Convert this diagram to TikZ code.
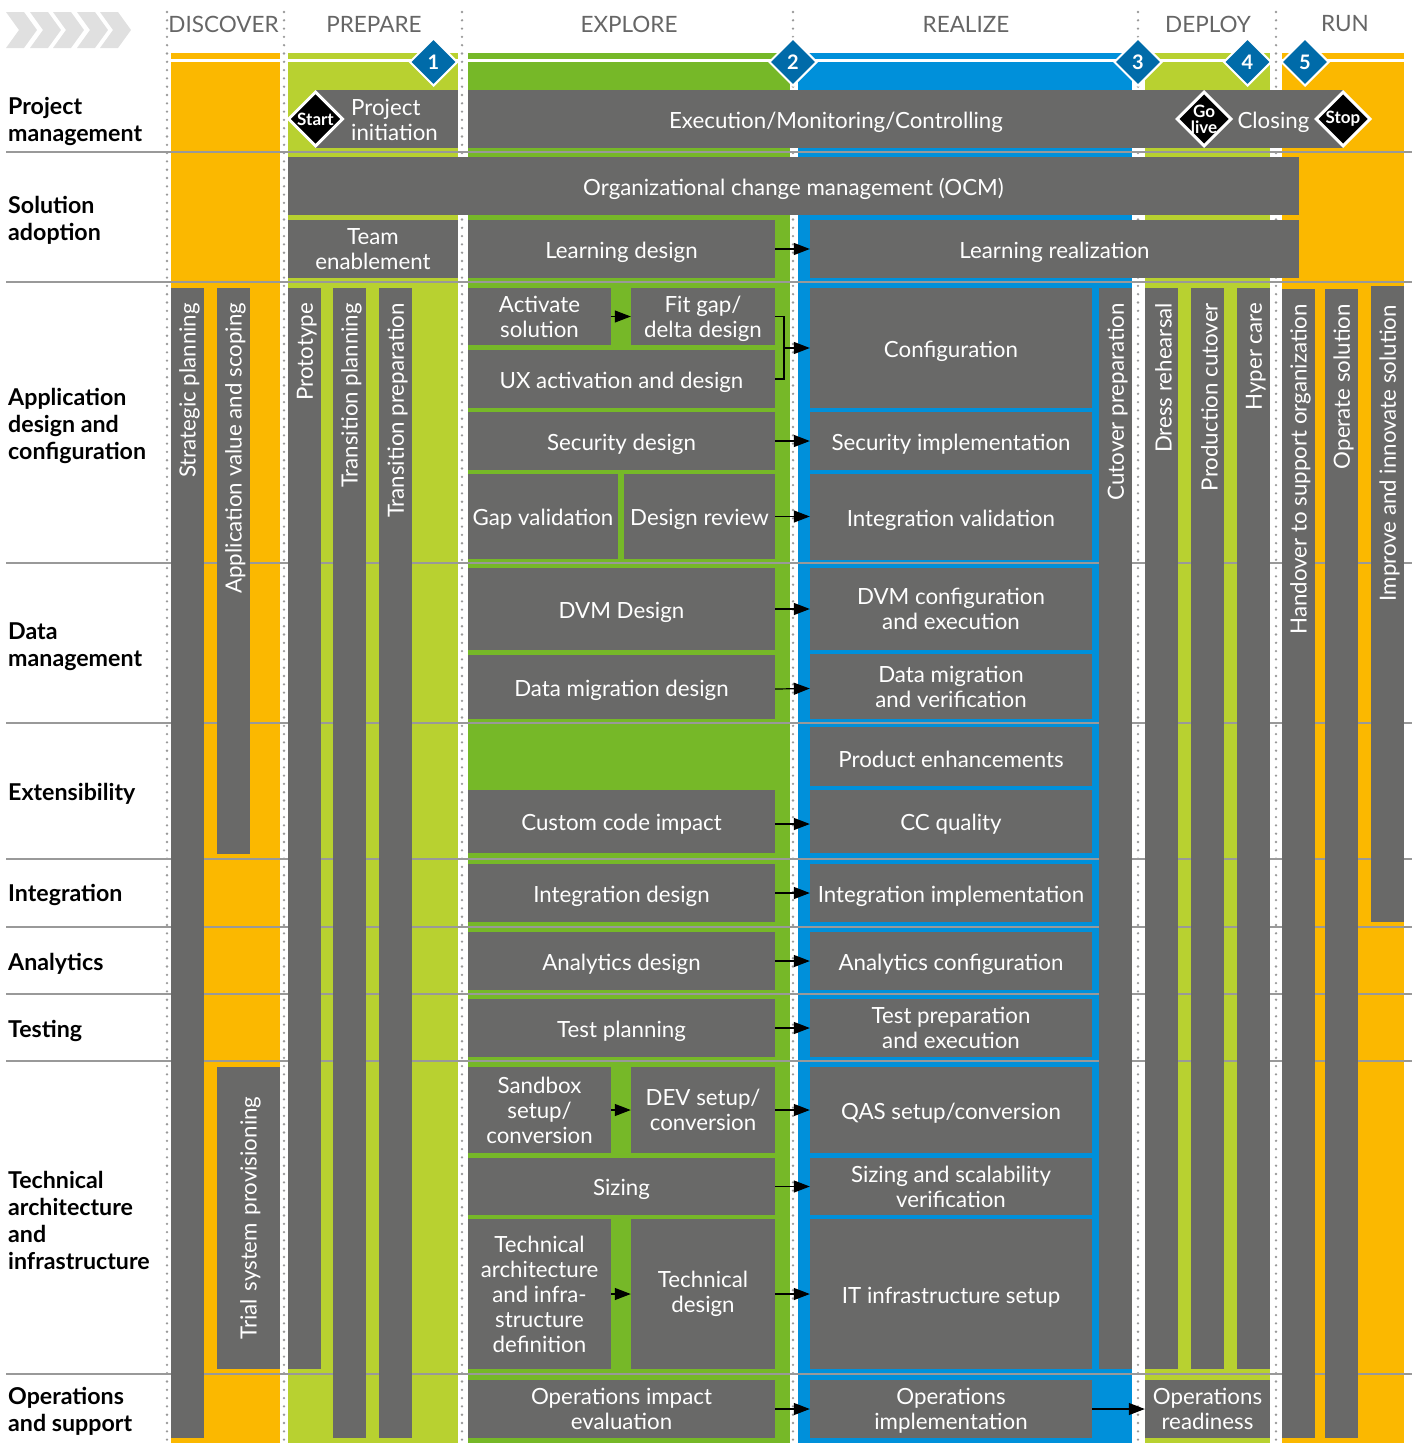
\documentclass[tikz,border=0pt]{standalone}
\usepackage{fontspec}
\setmainfont{Lato}
\usetikzlibrary{arrows.meta,shapes.geometric}
\definecolor{boxgray}{HTML}{696968}
\definecolor{headgray}{HTML}{666666}
\definecolor{rulegray}{HTML}{999999}
\definecolor{dotgray}{HTML}{999999}
\definecolor{chevgray}{HTML}{E0E0E0}
\definecolor{runorange}{HTML}{FBB800}
\definecolor{limegreen}{HTML}{B8D130}
\definecolor{exploregreen}{HTML}{76B828}
\definecolor{realizeblue}{HTML}{0090DA}
\definecolor{gateblue}{HTML}{006BA9}
\tikzset{
  taskbox/.style 2 args={fill=boxgray,text=white,inner sep=0pt,align=center,
    minimum width=#1pt,minimum height=#2pt,font=\fontsize{22.3}{25}\selectfont,
    execute at begin node={\rule{0pt}{22.5pt}}},
  vertbox/.style 2 args={fill=boxgray,text=white,inner xsep=15pt,inner ysep=0pt,rotate=90,align=flush right,
    text width=#1pt-30pt,minimum height=#2pt,font=\fontsize{22.3}{25}\selectfont,
    execute at begin node={\rule{0pt}{20.5pt}}},
  phasehead/.style={text=headgray,font=\fontsize{22.5}{24}\selectfont},
  rowlabel/.style={anchor=west,align=left,inner sep=0pt,text=black,font=\bfseries\fontsize{23.2}{27}\selectfont},
  gate/.style={diamond,aspect=1,fill=gateblue,draw=white,line width=2pt,minimum size=48pt,inner sep=0pt},
  gatetext/.style={text=white,inner sep=0pt,font=\bfseries\fontsize{20}{20}\selectfont},
  stone/.style={diamond,aspect=1,fill=black,draw=white,line width=3pt,minimum size=55pt,inner sep=0pt},
  stonetext/.style={text=white,inner sep=0pt,align=center,font=\bfseries\fontsize{17}{16}\selectfont},
  flow/.style={-{Triangle[length=16pt,width=12pt]},line width=1.2pt,black},
}
\begin{document}
\begin{tikzpicture}[x=1pt,y=-1pt]
  \useasboundingbox (0,0) rectangle (1416,1443);
  % phase columns
  \foreach \xa/\xb/\col in {171/280/runorange,288/458/limegreen,468/790/exploregreen,798/1132/realizeblue,1145/1270/limegreen,1282/1404/runorange}
    \fill[\col] (\xa,53) rectangle (\xb,1443);
  \draw[white,line width=3pt] (171,60.5)--(1404,60.5);
  \foreach \xd in {167,284,462,793,1138,1276}
    \draw[dotgray,line width=2.6pt,line cap=round,dash pattern=on 0pt off 8.3pt] (\xd,12)--(\xd,1443);
  \foreach \yr in {152,282,563,723,859,927,994,1061,1374}
    \draw[rulegray,line width=1.5pt] (6,\yr)--(1412,\yr);
  % chevrons
  \foreach \xc in {6,30,53,77,100}
    \fill[chevgray] (\xc,12)--(\xc+18,12)--(\xc+31,30)--(\xc+18,48)--(\xc,48)--(\xc+13,30)--cycle;

  \node[phasehead] (discover) at (223.5,24) {DISCOVER};
  \node[phasehead] (prepare) at (374,24) {PREPARE};
  \node[phasehead] (explore) at (629,24) {EXPLORE};
  \node[phasehead] (realize) at (966,24) {REALIZE};
  \node[phasehead] (deploy) at (1208,24) {DEPLOY};
  \node[phasehead] (run) at (1345,24) {RUN};

  \node[rowlabel] (rowpm) at (8,121) {Project\\management};
  \node[rowlabel] (rowsa) at (8,220.5) {Solution\\adoption};
  \node[rowlabel] (rowad) at (8,425.5) {Application\\design and\\configuration};
  \node[rowlabel] (rowdm) at (8,646.5) {Data\\management};
  \node[rowlabel] (rowex) at (8,794) {Extensibility};
  \node[rowlabel] (rowin) at (8,895) {Integration};
  \node[rowlabel] (rowan) at (8,963.5) {Analytics};
  \node[rowlabel] (rowte) at (8,1031) {Testing};
  \node[rowlabel] (rowta) at (8,1220) {Technical\\architecture\\and\\infrastructure};
  \node[rowlabel] (rowop) at (8,1411.5) {Operations\\and support};

  % project management and adoption
  \node[taskbox={143}{58}] (projinit) at (386.5,119) {};
  \node[anchor=west,inner sep=0pt,align=left,text=white,font=\fontsize{22.3}{25}\selectfont] (projinittext) at (351,120) {Project\\initiation};
  \node[taskbox={736}{58}] (execution) at (836,119) {Execution/Monitoring/Controlling};
  \node[taskbox={139}{58}] (closing) at (1273.5,119) {Closing};
  \node[taskbox={1011}{58}] (ocm) at (793.5,186) {Organizational change management (OCM)};
  \node[taskbox={170}{58}] (teamenable) at (373,249) {Team\\enablement};
  \node[taskbox={307}{58}] (learndesign) at (621.5,249) {Learning design};
  \node[taskbox={489}{58}] (learnreal) at (1054.5,249) {Learning realization};

  % vertical tasks
  \node[vertbox={1150}{33}] (strategic) at (187.5,863) {Strategic planning};
  \node[vertbox={566}{33}] (appvalue) at (233.5,571) {Application value and scoping};
  \node[vertbox={302}{63},align=center] (trial) at (248.5,1218) {Trial system provisioning};
  \node[vertbox={1081}{33}] (prototype) at (304.5,828.5) {Prototype};
  \node[vertbox={1150}{33}] (transplan) at (349.5,863) {Transition planning};
  \node[vertbox={1150}{33}] (transprep) at (395.5,863) {Transition preparation};
  \node[vertbox={1081}{33}] (cutoverprep) at (1115.5,828.5) {Cutover preparation};
  \node[vertbox={1081}{33}] (dress) at (1161.5,828.5) {Dress rehearsal};
  \node[vertbox={1081}{33}] (prodcut) at (1207.5,828.5) {Production cutover};
  \node[vertbox={1081}{33}] (hyper) at (1253.5,828.5) {Hyper care};
  \node[vertbox={1149}{33}] (handover) at (1298.5,863.5) {Handover to support organization};
  \node[vertbox={1149}{33}] (operate) at (1341.5,863.5) {Operate solution};
  \node[vertbox={636}{33},inner xsep=19pt,text width=598pt] (improve) at (1387.5,604) {Improve and innovate solution};

  % explore
  \node[taskbox={143}{57}] (activate) at (539.5,316.5) {Activate\\solution};
  \node[taskbox={144}{57}] (fitgap) at (703,316.5) {Fit gap/\\\smash{delta design}};
  \node[taskbox={307}{58}] (uxdesign) at (621.5,379) {UX activation and design};
  \node[taskbox={307}{58}] (secdesign) at (621.5,441) {Security design};
  \node[taskbox={150}{85}] (gapval) at (543,516.5) {Gap validation};
  \node[taskbox={151}{85}] (designrev) at (699.5,516.5) {Design review};
  \node[taskbox={307}{82}] (dvmdesign) at (621.5,609) {DVM Design};
  \node[taskbox={307}{64}] (migdesign) at (621.5,687) {Data migration design};
  \node[taskbox={307}{63}] (ccimpact) at (621.5,821.5) {Custom code impact};
  \node[taskbox={307}{58}] (intdesign) at (621.5,893) {Integration design};
  \node[taskbox={307}{58}] (anadesign) at (621.5,961) {Analytics design};
  \node[taskbox={307}{58}] (testplan) at (621.5,1028) {Test planning};
  \node[taskbox={143}{86}] (sandbox) at (539.5,1110) {Sandbox\\setup/\\conversion};
  \node[taskbox={144}{86}] (devsetup) at (703,1110) {DEV setup/\\conversion};
  \node[taskbox={307}{57}] (sizing) at (621.5,1186.5) {Sizing};
  \node[taskbox={143}{150}] (techarch) at (539.5,1294) {Technical\\architecture\\and infra-\\structure\\definition};
  \node[taskbox={144}{150}] (techdesign) at (703,1294) {Technical\\design};
  \node[taskbox={307}{58}] (opsimpact) at (621.5,1409) {Operations impact\\evaluation};

  % realize
  \node[taskbox={282}{120}] (config) at (951,348) {Configuration};
  \node[taskbox={282}{58}] (secimpl) at (951,441) {Security implementation};
  \node[taskbox={282}{86}] (intval) at (951,517) {Integration validation};
  \node[taskbox={282}{82}] (dvmconfig) at (951,609) {DVM configuration\\and execution};
  \node[taskbox={282}{65}] (migverify) at (951,686.5) {Data migration\\and verification};
  \node[taskbox={282}{59}] (prodenh) at (951,756.5) {Product enhancements};
  \node[taskbox={282}{63}] (ccquality) at (951,821.5) {CC quality};
  \node[taskbox={282}{58}] (intimpl) at (951,893) {Integration implementation};
  \node[taskbox={282}{58}] (anaconfig) at (951,961) {Analytics configuration};
  \node[taskbox={282}{58}] (testprep) at (951,1028) {Test preparation\\and execution};
  \node[taskbox={282}{86}] (qassetup) at (951,1110) {QAS setup/conversion};
  \node[taskbox={282}{57}] (sizingver) at (951,1186.5) {Sizing and scalability\\verification};
  \node[taskbox={282}{150}] (itsetup) at (951,1294) {IT infrastructure setup};
  \node[taskbox={282}{58}] (opsimpl) at (951,1409) {Operations\\\smash{implementation}};
  \node[taskbox={125}{58}] (opsready) at (1207.5,1409) {Operations\\readiness};

  % gates
  \foreach \xg/\ng/\lg in {433.5/gateone/1,793/gatetwo/2,1138/gatethree/3,1247.5/gatefour/4,1305/gatefive/5}
    \node[gate,label={[gatetext]center:\lg}] (\ng) at (\xg,62) {};
  \node[stone,label={[stonetext]center:Start}] (start) at (315.5,119) {};
  \node[stone,label={[stonetext]center:Go\\live}] (golive) at (1204,119) {};
  \node[stone,label={[stonetext]center:Stop}] (stop) at (1343,119) {};

  % arrows
  \coordinate (fitjoin) at (784,348);
  \draw[line width=1.2pt,black] (fitgap.east) -| (fitjoin) |- (uxdesign.east);
  \draw[flow] (fitjoin) -- (config.west);
  \draw[flow] (learndesign.east) -- (learnreal.west);
  \draw[flow] (activate.east) -- (fitgap.west);
  \draw[flow] (secdesign.east) -- (secimpl.west);
  \draw[flow] (designrev.east) -- (designrev.east -| intval.west);
  \draw[flow] (dvmdesign.east) -- (dvmconfig.west);
  \draw[flow] ([yshift=-2pt]migdesign.east) -- ([yshift=-2pt]migverify.west);
  \draw[flow] ([yshift=-2.5pt]ccimpact.east) -- ([yshift=-2.5pt]ccquality.west);
  \draw[flow] (intdesign.east) -- (intimpl.west);
  \draw[flow] (anadesign.east) -- (anaconfig.west);
  \draw[flow] (testplan.east) -- (testprep.west);
  \draw[flow] (sandbox.east) -- (devsetup.west);
  \draw[flow] (devsetup.east) -- (qassetup.west);
  \draw[flow] (sizing.east) -- (sizingver.west);
  \draw[flow] (techarch.east) -- (techdesign.west);
  \draw[flow] (techdesign.east) -- (itsetup.west);
  \draw[flow] (opsimpact.east) -- (opsimpl.west);
  \draw[flow] (opsimpl.east) -- (opsready.west);
\end{tikzpicture}
\end{document}
